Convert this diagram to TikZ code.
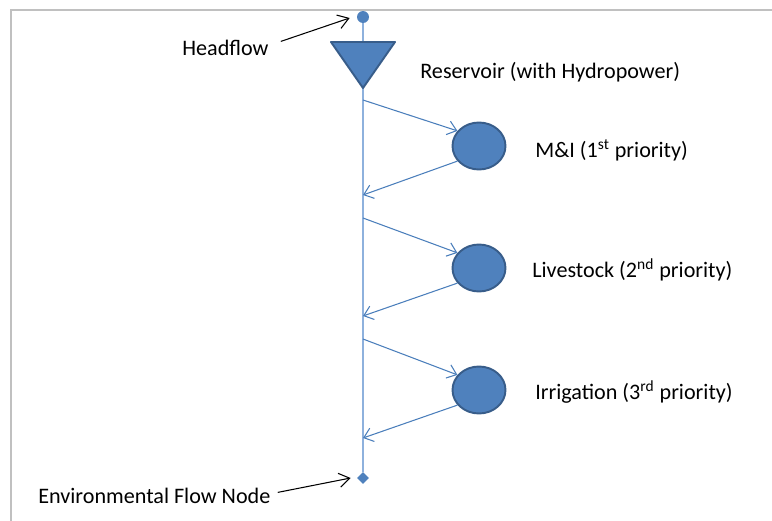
\documentclass[tikz,border=0pt]{standalone}
\usepackage{fontspec}
\setmainfont{Carlito}
\usetikzlibrary{positioning,calc,shapes.geometric,arrows.meta,backgrounds}
\definecolor{nodeblue}{HTML}{4F81BD}
\definecolor{edgeblue}{HTML}{385D8A}
\definecolor{trunkblue}{HTML}{8EB1DD}
\definecolor{linkblue}{HTML}{4A7EBB}
\definecolor{framegray}{HTML}{C0C0C0}

\begin{document}
\begin{tikzpicture}[
				x=0.02cm, y=-0.02cm,
				every node/.style={font=\fontsize{12.6}{15}\selectfont},
				tag/.style={anchor=base west, inner sep=0pt},
				demand/.style={
					ellipse, draw=edgeblue, fill=nodeblue, line width=1.1pt,
					minimum width=1.06cm, minimum height=0.94cm, inner sep=0pt
				},
				trunk/.style={draw=trunkblue, line width=1.2pt},
				link/.style={draw=linkblue, line width=0.6pt, -{Straight Barb[length=5pt,width=8pt]}},
				pointer/.style={draw=black, line width=0.6pt, -{Straight Barb[length=6pt,width=8pt]}}
				]
				\useasboundingbox (0,0) rectangle (772,521);
				% Khung
				\draw[framegray, line width=1.2pt] (11,521) -- (11,10) -- (772,10);
				
				% Đầu nguồn, hồ chứa, nút môi trường
				\node[circle, fill=nodeblue, minimum size=0.24cm, inner sep=0pt] (head) at (363,17) {};
				\draw[fill=nodeblue, draw=edgeblue, line width=1.1pt, line join=round]
				(331,42) -- (395,42) -- (363,88) -- cycle;
				\node[diamond, fill=nodeblue, minimum size=0.24cm, inner sep=0pt] (env) at (363,478) {};
				
				% Các nút nhu cầu
				\node[demand] (mi) at (479,146) {};
				\node[demand] (stock) at (479,268) {};
				\node[demand] (irr) at (479,390) {};
				
				% Điểm rẽ trên dòng chính
				\coordinate (out1) at (363,100);
				\coordinate (back1) at (363,195);
				\coordinate (out2) at (363,218);
				\coordinate (back2) at (363,316);
				\coordinate (out3) at (363,339);
				\coordinate (back3) at (363,438);
				
				\begin{scope}[on background layer]
					\draw[trunk] (head) -- (env);
				\end{scope}
				
				\draw[link] (out1) -- (mi.145);
				\draw[link] (mi.215) -- (back1);
				\draw[link] (out2) -- (stock.145);
				\draw[link] (stock.215) -- (back2);
				\draw[link] (out3) -- (irr.145);
				\draw[link] (irr.215) -- (back3);
				
				% Nhãn
				\node[tag] (headlbl) at (182,55) {Headflow};
				\node[tag] (reslbl) at (420,78) {Reservoir (with Hydropower)};
				\node[tag] (milbl) at (535,157) {M\&I (1\textsuperscript{st} priority)};
				\node[tag] (stocklbl) at (532,277) {Livestock (2\textsuperscript{nd} priority)};
				\node[tag] (irrlbl) at (535,399) {Irrigation (3\textsuperscript{rd} priority)};
				\node[tag] (envlbl) at (38,503) {Environmental Flow Node};
				
				\draw[pointer] ($(headlbl.east)+(12,-6)$) -- ($(head.west)+(-7,1)$);
				\draw[pointer] ($(envlbl.east)+(7,-3)$) -- ($(env.west)+(-6,0)$);
			\end{tikzpicture}
\end{document}
